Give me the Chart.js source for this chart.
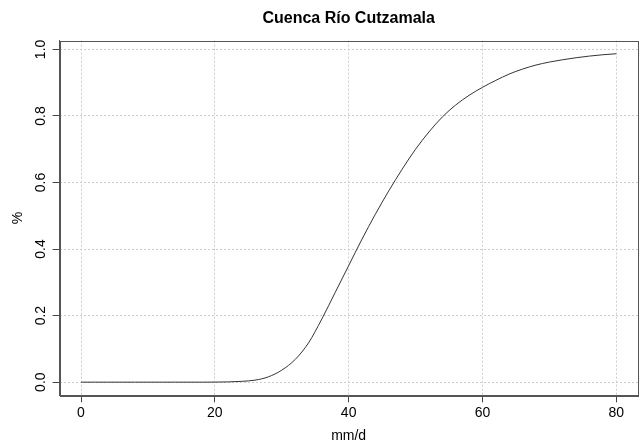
<!DOCTYPE html>
<html>
<head>
<meta charset="utf-8">
<script src="https://cdn.jsdelivr.net/npm/chart.js@4"></script>
<style>
	body{margin:0; background:#fff;}
	canvas{display:block;}
</style>
</head>
<body>
<canvas id="my-chart" width="640" height="445"></canvas>
<script>
//==========
// Data

// precipitación (mm/d)
const xVals = [0, 2, 4, 6, 8, 10, 12, 14, 16, 18, 20, 22, 24, 26, 28, 30, 32, 34, 36, 38,
	40, 42, 44, 46, 48, 50, 52, 54, 56, 58, 60, 62, 64, 66, 68, 70, 72, 74, 76, 78, 80];
// probabilidad acumulada
const yVals = [0, 0, 0, 0, 0, 0, 0, 0, 0, 0, 0.0002, 0.0008, 0.0025, 0.006, 0.016, 0.036, 0.068, 0.118, 0.19, 0.27,
	0.35, 0.43, 0.505, 0.575, 0.64, 0.70, 0.752, 0.797, 0.833, 0.862, 0.886, 0.907, 0.926, 0.941, 0.953, 0.962, 0.969, 0.975, 0.98, 0.984, 0.987];

const xTicks = [0, 20, 40, 60, 80];
const yTicks = [0, 0.2, 0.4, 0.6, 0.8, 1.0];

const chartTitle = "Cuenca Río Cutzamala";
const xTitle = "mm/d";
const yTitle = "%";

//==========
// Helpers

const FONT = "'Liberation Sans', Arial, Helvetica, sans-serif";
const GRID = "#cccccc";

// rango con 4% extra como en R
function padRange(lo, hi){
	const d = (hi - lo) * 0.04;
	return [lo - d, hi + d];
}
const xRange = padRange(Math.min(...xVals), Math.max(...xVals));
const yRange = padRange(Math.min(...yVals), Math.max(...yVals));

const points = xVals.map((x, i)=>({x: x, y: yVals[i]}));

// caja + etiquetas verticales del eje y
const framePlugin = {
	id: "frame",
	afterDraw(chart){
		const ctx = chart.ctx;
		const a = chart.chartArea;
		ctx.save();
		ctx.strokeStyle = "#555";
		ctx.lineWidth = 1;
		ctx.setLineDash([]);
		ctx.strokeRect(Math.round(a.left) + 0.5, Math.round(a.top) + 0.5,
			Math.round(a.right - a.left), Math.round(a.bottom - a.top));

		const ys = chart.scales.y;
		ctx.fillStyle = "#000";
		ctx.font = "14px " + FONT;
		ctx.textAlign = "center";
		ctx.textBaseline = "middle";
		for(let t of ys.ticks){
			const py = ys.getPixelForValue(t.value);
			ctx.save();
			ctx.translate(41, py);
			ctx.rotate(-Math.PI / 2);
			ctx.fillText(t.value.toFixed(1), 0, 0);
			ctx.restore();
		}
		ctx.restore();
	}
};

//==========
// Chart

function showChart(){
	const ctx = document.getElementById("my-chart").getContext("2d");
	new Chart(ctx, {
		type: "line",
		data: {
			datasets: [{
				data: points,
				borderColor: "#333",
				borderWidth: 1,
				pointRadius: 0,
				fill: false,
				cubicInterpolationMode: "monotone"
			}]
		},
		options: {
			responsive: false,
			animation: false,
			devicePixelRatio: 1,
			layout: {padding: {top: 0, right: 2.3, bottom: 0, left: 0}},
			plugins: {
				legend: {display: false},
				tooltip: {enabled: false},
				title: {
					display: true,
					text: chartTitle,
					fullSize: false,
					color: "#000",
					font: {family: FONT, size: 16, weight: "bold"},
					padding: {top: 9, bottom: 12.4}
				}
			},
			scales: {
				x: {
					type: "linear",
					min: xRange[0],
					max: xRange[1],
					afterBuildTicks: s=>{ s.ticks = xTicks.map(v=>({value: v})); },
					afterFit: s=>{ s.height = 49.7; },
					ticks: {
						color: "#000",
						padding: 2,
						maxRotation: 0,
						font: {family: FONT, size: 14}
					},
					grid: {
						color: GRID,
						tickColor: "#444",
						tickLength: 7,
						tickBorderDash: []
					},
					border: {display: true, color: "#555", width: 1, dash: [2, 2]},
					title: {
						display: true,
						text: xTitle,
						color: "#000",
						font: {family: FONT, size: 14},
						padding: {top: 0, bottom: 0}
					}
				},
				y: {
					type: "linear",
					min: yRange[0],
					max: yRange[1],
					afterBuildTicks: s=>{ s.ticks = yTicks.map(v=>({value: v})); },
					afterFit: s=>{ s.width = 59.6; },
					ticks: {
						color: "transparent",
						font: {family: FONT, size: 14}
					},
					grid: {
						color: GRID,
						tickColor: "#444",
						tickLength: 7,
						tickBorderDash: []
					},
					border: {display: true, color: "#555", width: 1, dash: [2, 2]},
					title: {
						display: true,
						text: yTitle,
						color: "#000",
						font: {family: FONT, size: 14},
						padding: {top: 9.6, bottom: 0}
					}
				}
			}
		},
		plugins: [framePlugin]
	});
}

showChart();
</script>
</body>
</html>
